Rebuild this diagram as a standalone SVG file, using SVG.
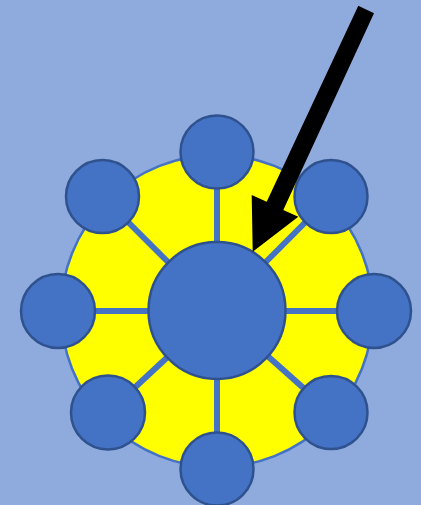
<svg xmlns="http://www.w3.org/2000/svg" width="421" height="505" viewBox="0 0 421 505">
<style>
.node{fill:#4472C4;stroke:#2F528F;stroke-width:2.5}
.spoke{stroke:#4472C4;stroke-width:6;fill:none}
</style>
<rect width="421" height="505" fill="#8FAADC"/>
<g id="ring"><circle cx="217" cy="311" r="156" fill="#FFFF00" stroke="#4472C4" stroke-width="2.5"/></g>
<g id="connectors">
<line class="spoke" x1="217" y1="311" x2="217" y2="152"/>
<line class="spoke" x1="217" y1="311" x2="331" y2="196.5"/>
<line class="spoke" x1="217" y1="311" x2="374" y2="311"/>
<line class="spoke" x1="217" y1="311" x2="331" y2="412.5"/>
<line class="spoke" x1="217" y1="311" x2="217" y2="469"/>
<line class="spoke" x1="217" y1="311" x2="108" y2="412.5"/>
<line class="spoke" x1="217" y1="311" x2="58" y2="311"/>
<line class="spoke" x1="217" y1="311" x2="102.5" y2="196.5"/>
</g>
<g id="n-top"><circle class="node" cx="217" cy="152" r="36.5"/></g>
<g id="n-topright"><circle class="node" cx="331" cy="196.5" r="36.5"/></g>
<g id="n-right"><circle class="node" cx="374" cy="311" r="37"/></g>
<g id="n-bottomright"><circle class="node" cx="331" cy="412.5" r="36.5"/></g>
<g id="n-bottom"><circle class="node" cx="217" cy="469" r="36.5"/></g>
<g id="n-bottomleft"><circle class="node" cx="108" cy="412.5" r="37"/></g>
<g id="n-left"><circle class="node" cx="58" cy="311" r="37"/></g>
<g id="n-topleft"><circle class="node" cx="102.5" cy="196.5" r="36.5"/></g>
<g id="n-center"><circle class="node" cx="217" cy="310.5" r="68.5"/></g>
<g id="arrow"><polygon points="358.3,5.7 374,13.3 283.3,210 298.3,216.7 252.7,251.7 251.7,195 266.7,201.7" fill="#000"/></g>
</svg>
